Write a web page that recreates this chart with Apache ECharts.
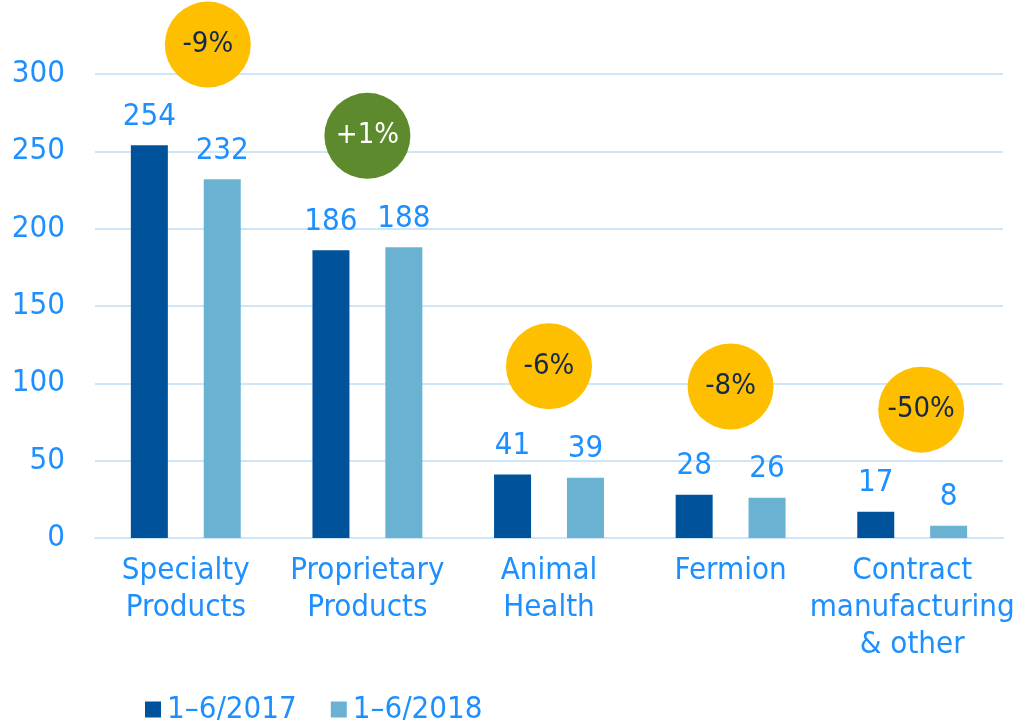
<!DOCTYPE html>
<html>
<head>
<meta charset="utf-8">
<script src="https://cdn.jsdelivr.net/npm/echarts@6/dist/echarts.min.js"></script>
<style>
	html, body { margin: 0; padding: 0; background: #fff; }
	#chart { width: 1021px; height: 720px; }
</style>
</head>
<body>
<div id="chart"></div>
<script>
var categories = ['Specialty\nProducts', 'Proprietary\nProducts', 'Animal\nHealth', 'Fermion', 'Contract\nmanufacturing\n& other'];
var sales2017 = [254, 186, 41, 28, 17];
var sales2018 = [232, 188, 39, 26, 8];
var changeLabels = ['-9%', '+1%', '-6%', '-8%', '-50%'];
var changeLevels = [319, 260, 111, 98, 83];
var yTicks = [0, 50, 100, 150, 200, 250, 300];

var colors = {
	dark: '#00539b',
	light: '#6ab2d2',
	text: '#1e8fff',
	grid: '#cfe6f9',
	down: '#fdbf00',
	up: '#5e8a2e'
};
var fontFamily = '"DejaVu Sans Condensed", "DejaVu Sans", sans-serif';
var fontSize = 31;

// small sideways nudges for bubbles that sit off the category centre
var bubbleOffsets = [[22, 0], [0, 0], [0, 0], [0, 0], [9, 0]];

var bubbleData = [];
for (var i = 0; i < categories.length; i++) {
	var isUp = changeLabels[i].charAt(0) === '+';
	bubbleData.push({
		value: [i, changeLevels[i]],
		name: changeLabels[i],
		symbolOffset: bubbleOffsets[i],
		itemStyle: { color: isUp ? colors.up : colors.down, opacity: 1 },
		label: { color: isUp ? '#ffffff' : '#14284b' }
	});
}

var chart = echarts.init(document.getElementById('chart'));

chart.setOption({
	animation: false,
	textStyle: { fontFamily: fontFamily },
	grid: {
		left: 95,
		right: 18,
		top: 74,
		bottom: 182,
		containLabel: false
	},
	legend: {
		data: ['1\u20136/2017', '1\u20136/2018'],
		left: 140,
		top: 689,
		itemWidth: 16,
		itemHeight: 16,
		itemGap: 34,
		icon: 'rect',
		textStyle: { color: colors.text, fontSize: fontSize, fontFamily: fontFamily, padding: [0, 0, 0, 1] }
	},
	xAxis: {
		type: 'category',
		data: categories,
		axisLine: { show: true, lineStyle: { color: colors.grid, width: 2 } },
		axisTick: { show: false },
		axisLabel: {
			color: colors.text,
			fontSize: fontSize,
			lineHeight: 37,
			margin: 14,
			interval: 0,
			fontFamily: fontFamily
		}
	},
	yAxis: {
		type: 'value',
		min: 0,
		max: 300,
		interval: 50,
		axisLine: { show: false },
		axisTick: { show: false },
		splitLine: { lineStyle: { color: colors.grid, width: 2 } },
		axisLabel: {
			color: colors.text,
			fontSize: fontSize,
			margin: 30,
			fontFamily: fontFamily,
			formatter: function (v) { return yTicks.indexOf(v) >= 0 ? String(v) : ''; }
		}
	},
	series: [
		{
			name: '1\u20136/2017',
			type: 'bar',
			data: sales2017,
			barWidth: 37,
			barGap: '97%',
			itemStyle: { color: colors.dark },
			label: { show: true, position: 'top', distance: 13, color: colors.text, fontSize: fontSize, fontFamily: fontFamily }
		},
		{
			name: '1\u20136/2018',
			type: 'bar',
			data: sales2018,
			barWidth: 37,
			itemStyle: { color: colors.light },
			label: { show: true, position: 'top', distance: 13, color: colors.text, fontSize: fontSize, fontFamily: fontFamily }
		},
		{
			name: 'change',
			type: 'scatter',
			data: bubbleData,
			symbol: 'circle',
			symbolSize: 86,
			clip: false,
			z: 5,
			emphasis: { disabled: true },
			label: {
				show: true,
				position: 'inside',
				fontSize: 29,
				fontFamily: fontFamily,
				formatter: function (p) { return p.name; }
			}
		}
	]
});
</script>
</body>
</html>
